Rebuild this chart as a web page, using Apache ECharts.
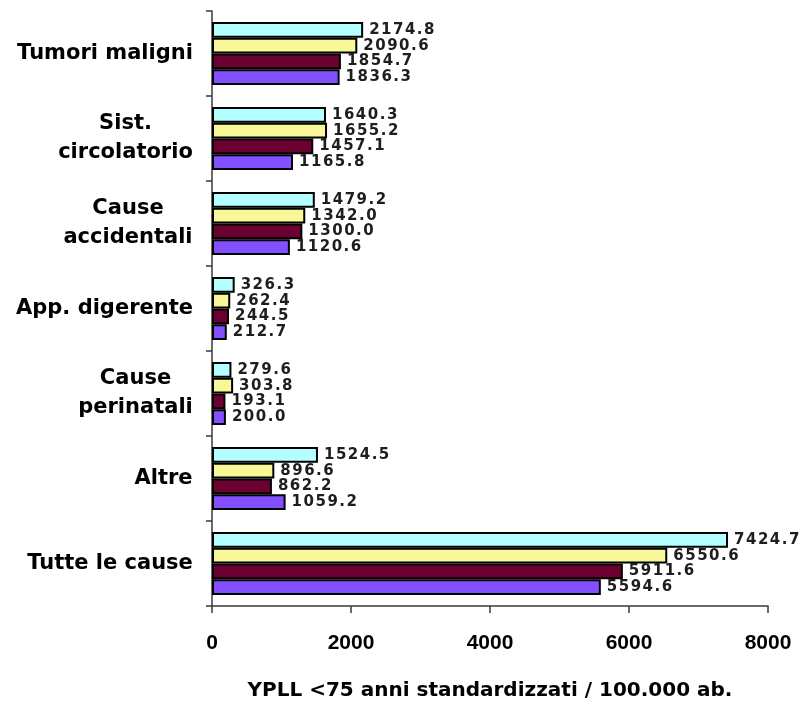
<!DOCTYPE html>
<html>
<head>
<meta charset="utf-8">
<script src="https://cdn.jsdelivr.net/npm/echarts@6/dist/echarts.min.js"></script>
<style>
  html, body { margin: 0; padding: 0; background: #ffffff; }
  #chart { width: 807px; height: 706px; }
</style>
</head>
<body>
<div id="chart"></div>
<script>
// Causes of death, listed top to bottom
const categories = [
  'Tumori maligni',
  'Sist.\ncircolatorio',
  'Cause\naccidentali',
  'App. digerente',
  'Cause\nperinatali',
  'Altre',
  'Tutte le cause'
];

// Standardised YPLL <75 per 100,000, one array per period (top bar to bottom bar)
const serie1 = [2174.8, 1640.3, 1479.2, 326.3, 279.6, 1524.5, 7424.7];
const serie2 = [2090.6, 1655.2, 1342.0, 262.4, 303.8, 896.6, 6550.6];
const serie3 = [1854.7, 1457.1, 1300.0, 244.5, 193.1, 862.2, 5911.6];
const serie4 = [1836.3, 1165.8, 1120.6, 212.7, 200.0, 1059.2, 5594.6];

const xTicks = [0, 2000, 4000, 6000, 8000];
const xTitle = 'YPLL <75 anni standardizzati / 100.000 ab.';

const palette = ['#b4ffff', '#f8f898', '#6c0030', '#8250ff'];
const seriesData = [serie1, serie2, serie3, serie4];

const catFont = 'bold 21px "DejaVu Sans"';

// Width of the widest line of each category name, so that
// two-line names can be centred line by line.
const measureCtx = document.createElement('canvas').getContext('2d');
measureCtx.font = catFont;
const catWidths = categories.map(c =>
  Math.ceil(Math.max(...c.split('\n').map(s => measureCtx.measureText(s).width)))
);

const catRich = {};
categories.forEach((c, i) => {
  catRich['c' + i] = {
    align: 'center',
    width: catWidths[i],
    fontFamily: 'DejaVu Sans',
    fontWeight: 'bold',
    fontSize: 21,
    lineHeight: 29,
    color: '#000000'
  };
});

const chart = echarts.init(document.getElementById('chart'), null, { renderer: 'canvas' });

const valueLabel = {
  show: true,
  position: 'right',
  distance: 6,
  color: '#1e1e1e',
  fontFamily: 'DejaVu Sans',
  fontWeight: 'bold',
  fontSize: 15,
  // spaced-out digits
  formatter: p => p.value.toFixed(1).split('').join('\u200A')
};

chart.setOption({
  animation: false,
  backgroundColor: '#ffffff',
  grid: { left: 212, right: 39, top: 11, bottom: 91, containLabel: false },
  xAxis: {
    type: 'value',
    min: xTicks[0],
    max: xTicks[xTicks.length - 1],
    interval: xTicks[1] - xTicks[0],
    splitLine: { show: false },
    axisLine: { show: true, lineStyle: { color: '#3a3a3a', width: 1.5 } },
    axisTick: { show: true, length: 7, lineStyle: { color: '#3a3a3a', width: 1.5 } },
    axisLabel: {
      margin: 27,
      color: '#000000',
      fontFamily: 'Liberation Sans',
      fontWeight: 'bold',
      fontSize: 21,
      formatter: v => String(v)
    },
    name: xTitle,
    nameLocation: 'middle',
    nameGap: 75,
    nameTextStyle: {
      color: '#000000',
      fontFamily: 'DejaVu Sans',
      fontWeight: 'bold',
      fontSize: 20
    }
  },
  yAxis: {
    type: 'category',
    data: categories,
    inverse: true,
    axisLine: { show: true, lineStyle: { color: '#3a3a3a', width: 1.5 } },
    axisTick: { show: true, length: 6, lineStyle: { color: '#3a3a3a', width: 1.5 } },
    axisLabel: {
      margin: 19,
      color: '#000000',
      formatter: (v, idx) => v.split('\n').map(s => '{c' + idx + '|' + s + '}').join('\n'),
      rich: catRich
    }
  },
  series: seriesData.map((d, i) => ({
    type: 'bar',
    name: 'serie' + (i + 1),
    data: d,
    barGap: '0%',
    barCategoryGap: '26%',
    itemStyle: { color: palette[i], borderColor: '#000000', borderWidth: 2 },
    label: valueLabel
  }))
});
</script>
</body>
</html>
